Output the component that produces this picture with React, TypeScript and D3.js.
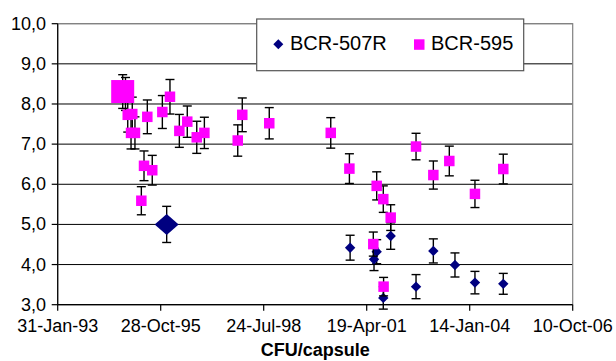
import React from "react";
import * as d3 from "d3";

const tickDates = ["1993-01-31", "1995-10-28", "1998-07-24", "2001-04-19", "2004-01-14", "2006-10-10"];
const yTicks = [3, 4, 5, 6, 7, 8, 9, 10];

const dates595 = ["1994-10-24","1994-11-20","1994-12-12","1995-01-13","1995-01-25","1995-02-20","1995-04-23","1995-05-19","1995-06-20","1995-08-07","1995-11-13","1996-01-26","1996-04-26","1996-07-12","1996-10-12","1996-12-25","1997-11-14","1997-12-28","1998-09-16","2000-05-05","2000-11-02","2001-06-22","2001-07-25","2001-09-27","2001-09-30","2001-12-08","2002-08-11","2003-01-26","2003-06-30","2004-03-05","2004-12-05"];
const values595 = [8.31,8.25,7.73,7.28,7.75,7.28,5.59,6.46,7.68,6.35,7.80,8.18,7.33,7.56,7.17,7.28,7.09,7.73,7.52,7.28,6.39,4.51,5.96,5.63,3.45,5.17,6.94,6.23,6.58,5.76,6.38];
const errors595 = [0.42,0.41,0.43,0.40,0.42,0.40,0.35,0.37,0.42,0.37,0.41,0.43,0.41,0.39,0.40,0.39,0.39,0.42,0.39,0.38,0.37,0.30,0.35,0.33,0.23,0.32,0.33,0.35,0.37,0.34,0.37];

const dates507 = ["1995-12-25","2000-11-09","2001-06-29","2001-07-25","2001-09-27","2001-12-08","2002-08-11","2003-01-26","2003-08-24","2004-03-05","2004-12-05"];
const values507 = [5.00,4.42,4.13,4.32,3.17,4.71,3.45,4.34,3.99,3.55,3.52];
const errors507 = [0.45,0.31,0.28,0.30,0.28,0.33,0.30,0.30,0.30,0.28,0.26];

const seriesNames = ["BCR-507R", "BCR-595"];
const axisTitle = "CFU/capsule";

// style config
const BIG_595 = 0;
const BIG_507 = 0;
const NAVY = "#000080";
const MAGENTA = "#FF00FF";
const FONT = "'Liberation Sans', Arial, sans-serif";

const parse = d3.utcParse("%Y-%m-%d");
const fmtDate = d3.utcFormat("%d-%b-%y");
const fmtY = (v: number) => d3.format(".1f")(v).replace(".", ",");

export default function App() {
  const left = 57.7, right = 572.7, top = 23.7, bottom = 304.7;
  const x = d3.scaleUtc().domain([parse(tickDates[0])!, parse(tickDates[tickDates.length - 1])!]).range([left, right]);
  const y = d3.scaleLinear().domain([3, 10]).range([bottom, top]);

  const errBar = (cx: number, v: number, e: number, key: string) => {
    const y1 = y(v + e), y2 = y(v - e);
    const hw = 4.5;
    return (
      <g key={key} stroke="#000" strokeWidth={1.4}>
        <line x1={cx} x2={cx} y1={y1} y2={y2} />
        <line x1={cx - hw} x2={cx + hw} y1={y1} y2={y1} />
        <line x1={cx - hw} x2={cx + hw} y1={y2} y2={y2} />
      </g>
    );
  };

  const diamond = (cx: number, cy: number, hw: number, hh: number) =>
    `M${cx},${cy - hh}L${cx + hw},${cy}L${cx},${cy + hh}L${cx - hw},${cy}Z`;

  return (
    <svg width={616} height={361} style={{ position: "absolute", left: 0, top: 0, background: "#fff" }} fontFamily={FONT}>
      <rect x={0} y={0} width={616} height={361} fill="#fff" />
      {yTicks.map((t) => (
        <line key={"g" + t} x1={left} x2={right} y1={y(t)} y2={y(t)} stroke={t === 10 || t === 3 ? "#808080" : "#000"} strokeWidth={1} />
      ))}
      <rect x={left} y={top} width={right - left} height={bottom - top} fill="none" stroke="#808080" strokeWidth={1.2} />
      <line x1={left} x2={left} y1={top} y2={bottom} stroke="#000" strokeWidth={1.2} />
      <line x1={left} x2={right} y1={bottom} y2={bottom} stroke="#000" strokeWidth={1.2} />
      {yTicks.map((t) => (
        <g key={"yt" + t}>
          <line x1={left - 6} x2={left} y1={y(t)} y2={y(t)} stroke="#000" strokeWidth={1.2} />
          <text x={46} y={y(t) + 6} textAnchor="end" fontSize={18} fill="#000">{fmtY(t)}</text>
        </g>
      ))}
      {tickDates.map((d) => {
        const px = x(parse(d)!);
        return (
          <g key={"xt" + d}>
            <line x1={px} x2={px} y1={bottom} y2={bottom + 6} stroke="#000" strokeWidth={1.2} />
            <text x={px} y={331.5} textAnchor="middle" fontSize={18} fill="#000">{fmtDate(parse(d)!)}</text>
          </g>
        );
      })}
      <text x={(left + right) / 2} y={356} textAnchor="middle" fontSize={18} fontWeight="bold" fill="#000">{axisTitle}</text>

      {dates507.map((d, i) => errBar(x(parse(d)!), values507[i], errors507[i], "e507" + i))}
      {dates507.map((d, i) => {
        const big = i === BIG_507;
        return <path key={"m507" + i} d={diamond(x(parse(d)!), y(values507[i]), big ? 12 : 5.2, big ? 10.5 : 5.2)} fill={NAVY} />;
      })}
      {dates595.map((d, i) => errBar(x(parse(d)!), values595[i], errors595[i], "e595" + i))}
      {dates595.map((d, i) => {
        const s = i === BIG_595 ? 23 : 10.5;
        return <rect key={"m595" + i} x={x(parse(d)!) - s / 2} y={y(values595[i]) - s / 2} width={s} height={s} fill={MAGENTA} />;
      })}

      <rect x={256.7} y={19} width={267} height={51.7} fill="#fff" stroke="#555" strokeWidth={1.2} />
      <path d={diamond(278.3, 44.3, 5, 5)} fill={NAVY} />
      <text x={290} y={49.5} fontSize={20} fill="#000">{seriesNames[0]}</text>
      <rect x={414} y={39.3} width={10.5} height={10.5} fill={MAGENTA} />
      <text x={431} y={49.5} fontSize={20} fill="#000">{seriesNames[1]}</text>
    </svg>
  );
}
